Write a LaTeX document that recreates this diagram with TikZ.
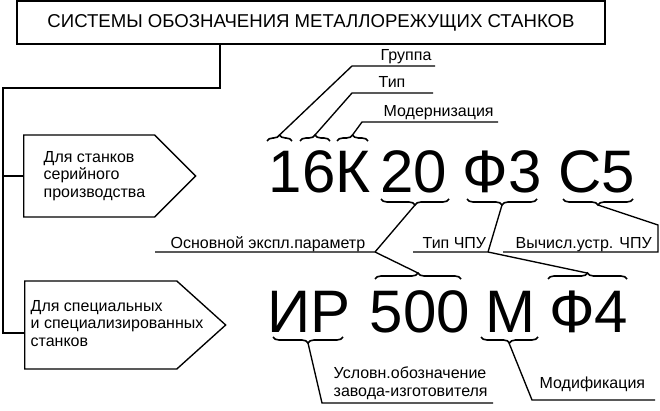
\documentclass[tikz,border=0pt]{standalone}
\usepackage{fontspec}
\setmainfont{Liberation Sans}
\usetikzlibrary{shapes.symbols,decorations.pathreplacing}

\begin{document}
\begin{tikzpicture}[x=1pt,y=-1pt,line width=1.35pt,
    bigtxt/.style={font=\fontsize{60}{60}\selectfont,inner sep=0pt},
    tag/.style={font=\fontsize{16}{17.5}\selectfont,inner sep=0pt},
    kind/.style={draw,shape=signal,signal to=east,inner sep=0pt},
    brup/.style={decorate,decoration={brace,amplitude=6pt},line width=1.6pt},
    brdn/.style={decorate,decoration={brace,mirror,amplitude=6pt},line width=1.6pt}]
    \useasboundingbox (0,0) rectangle (660,411);
    % header and the two kinds of machines
    \node[draw,line width=1.5pt,minimum width=588pt,minimum height=43pt,inner sep=0pt,
          font=\fontsize{18.6}{20}\selectfont] (title) at (311,22.5) {СИСТЕМЫ ОБОЗНАЧЕНИЯ МЕТАЛЛОРЕЖУЩИХ СТАНКОВ};
    \node[kind,minimum width=172pt,minimum height=82pt,signal pointer angle=90,anchor=west] (serial) at (23,176) {};
    \node[kind,minimum width=201pt,minimum height=88pt,signal pointer angle=84,anchor=west] (special) at (24,325) {};
    \node[tag,align=left,anchor=north west] (serialtxt) at (43,150.5) {Для станков\\серийного\\производства};
    \node[tag,align=left,anchor=north west] (specialtxt) at (30,299.5) {Для специальных\\и специализированных\\станков};
    \coordinate (trunk) at (3,88);
    \draw ([xshift=-91pt]title.south) |- (trunk) |- ([yshift=-8pt]special.west);
    \draw (trunk |- serial.west) -- (serial.west);

    % the two example codes
    \node[bigtxt,anchor=base] (n16K) at (319.5,193) {16К};
    \node[bigtxt,anchor=base] (n20) at (414,193) {20};
    \node[bigtxt,anchor=base] (nF3) at (502,193) {Ф3};
    \node[bigtxt,anchor=base] (nC5) at (597,193) {С5};
    \node[bigtxt,anchor=base] (nIR) at (309,332) {ИР};
    \node[bigtxt,anchor=base] (n500) at (420,332) {500};
    \node[bigtxt,anchor=base] (nM) at (510.5,332) {М};
    \node[bigtxt,anchor=base] (nF4) at (588.5,332) {Ф4};

    % labels
    \node[tag,anchor=base west] (grp) at (380,61) {Группа};
    \node[tag,anchor=base west] (typ) at (378,88) {Тип};
    \node[tag,anchor=base west] (mdr) at (383,117) {Модернизация};
    \node[tag,anchor=base west] (par) at (170,248) {Основной экспл.параметр};
    \node[tag,anchor=base west] (cnc) at (422,248) {Тип ЧПУ};
    \node[tag,anchor=base west] (cmp) at (515,248) {Вычисл.устр. ЧПУ};
    \node[tag,align=left,anchor=north west] (mfr) at (333,366.5) {Условн.обозначение\\завода-изготовителя};
    \node[tag,anchor=base west] (mod) at (539,388) {Модификация};

    % braces
    \draw[brup] ([xshift=-52.5pt,yshift=52pt]n16K.base) -- ([xshift=-27.5pt,yshift=52pt]n16K.base);
    \draw[brup] ([xshift=-19.5pt,yshift=52pt]n16K.base) -- ([xshift=10.5pt,yshift=52pt]n16K.base);
    \draw[brup] ([xshift=17.5pt,yshift=52pt]n16K.base) -- ([xshift=48.5pt,yshift=52pt]n16K.base);
    \draw[brdn] ([xshift=-33pt,yshift=-6pt]n20.base) -- ([xshift=35pt,yshift=-6pt]n20.base);
    \draw[brdn] ([xshift=-35pt,yshift=-6pt]nF3.base) -- ([xshift=35pt,yshift=-6pt]nF3.base);
    \draw[brdn] ([xshift=-34pt,yshift=-6pt]nC5.base) -- ([xshift=36pt,yshift=-6pt]nC5.base);
    \draw[brup] ([xshift=-45pt,yshift=53pt]n500.base) -- ([xshift=41pt,yshift=53pt]n500.base);
    \draw[brup] ([xshift=-40.5pt,yshift=53pt]nF4.base) -- ([xshift=38.5pt,yshift=53pt]nF4.base);
    \draw[brdn] ([xshift=-36pt,yshift=-5pt]nIR.base) -- ([xshift=34pt,yshift=-5pt]nIR.base);
    \draw[brdn] ([xshift=-29.5pt,yshift=-5pt]nM.base) -- ([xshift=27.5pt,yshift=-5pt]nM.base);

    % leaders
    \draw ([xshift=-40pt,yshift=58pt]n16K.base) -- ([xshift=-28pt,yshift=-5pt]grp.base west) -- ([xshift=55pt,yshift=-5pt]grp.base west);
    \draw ([xshift=-4.5pt,yshift=58pt]n16K.base) -- ([xshift=-26pt,yshift=-5pt]typ.base west) -- ([xshift=55pt,yshift=-5pt]typ.base west);
    \draw ([xshift=33pt,yshift=58pt]n16K.base) -- ([xshift=-21pt,yshift=-5pt]mdr.base west) -- ([xshift=115pt,yshift=-5pt]mdr.base west);
    \coordinate (p20) at ([xshift=205pt,yshift=-4pt]par.base west);
    \draw ([xshift=1pt,yshift=-12pt]n20.base) -- (p20) -- ([xshift=-15pt,yshift=-4pt]par.base west);
    \draw (p20) -- ([xshift=-2pt,yshift=59pt]n500.base);
    \coordinate (pF3) at ([xshift=66pt,yshift=-4pt]cnc.base west);
    \draw ([yshift=-12pt]nF3.base) -- (pF3) -- ([xshift=-9pt,yshift=-4pt]cnc.base west);
    \draw (pF3) -- ([xshift=-1.5pt,yshift=59pt]nF4.base);
    \draw ([xshift=1pt,yshift=-12pt]nC5.base) -- ([xshift=143pt,yshift=23pt]cmp.base west)
        -- ([xshift=143pt,yshift=-4pt]cmp.base west) -- ([xshift=-12pt,yshift=-4pt]cmp.base west);
    \draw ([xshift=-1pt,yshift=-11pt]nIR.base) -- ([xshift=-11pt,yshift=-36.5pt]mfr.north west) -- ([xshift=160pt,yshift=-36.5pt]mfr.north west);
    \draw ([xshift=-1.5pt,yshift=-11pt]nM.base) -- ([xshift=-7pt,yshift=-12pt]mod.base west) -- ([xshift=116pt,yshift=-12pt]mod.base west);
\end{tikzpicture}
\end{document}
